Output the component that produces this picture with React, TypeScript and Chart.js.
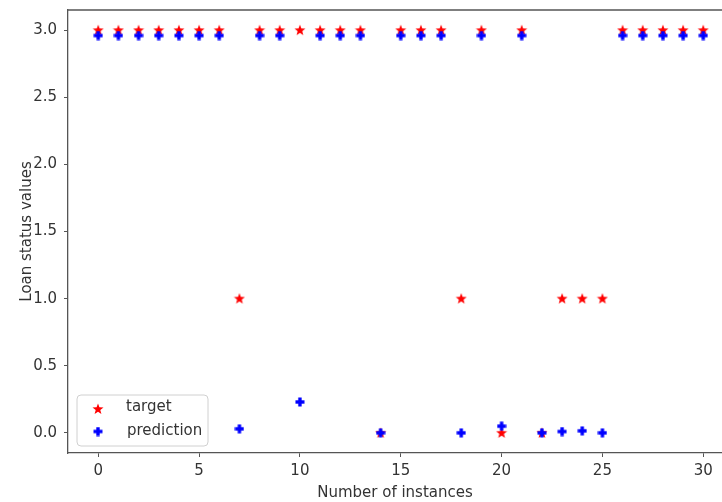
import React, { useEffect, useRef } from 'react';
import { Chart, registerables } from 'chart.js';

Chart.register(...registerables);

const instances = [0, 1, 2, 3, 4, 5, 6, 7, 8, 9, 10, 11, 12, 13, 14, 15, 16, 17, 18, 19, 20, 21, 22, 23, 24, 25, 26, 27, 28, 29, 30];
const targetValues = [3, 3, 3, 3, 3, 3, 3, 1, 3, 3, 3, 3, 3, 3, 0, 3, 3, 3, 1, 3, 0, 3, 0, 1, 1, 1, 3, 3, 3, 3, 3];
const predictionValues = [
  2.96, 2.96, 2.96, 2.96, 2.96, 2.96, 2.96, 0.03, 2.96, 2.96, 0.23, 2.96, 2.96, 2.96, 0.0, 2.96,
  2.96, 2.96, 0.0, 2.96, 0.05, 2.96, 0.0, 0.01, 0.015, 0.0, 2.96, 2.96, 2.96, 2.96, 2.96,
];
const xTicks = [0, 5, 10, 15, 20, 25, 30];
const yTicks = [0, 0.5, 1, 1.5, 2, 2.5, 3];
const seriesLabels = ['target', 'prediction'];
const xTitle = 'Number of instances';
const yTitle = 'Loan status values';

const FONT = 'DejaVu Sans';
const TEXT = '#333333';
const AXIS = '#555555';

function makeStar(color: string): HTMLCanvasElement {
  const c = document.createElement('canvas');
  c.width = 12;
  c.height = 12;
  const g = c.getContext('2d')!;
  const cx = 6, cy = 6.3, R = 5.8, r = 2.4;
  g.beginPath();
  for (let i = 0; i < 10; i++) {
    const rad = i % 2 === 0 ? R : r;
    const a = -Math.PI / 2 + (i * Math.PI) / 5;
    const x = cx + rad * Math.cos(a);
    const y = cy + rad * Math.sin(a);
    if (i === 0) g.moveTo(x, y);
    else g.lineTo(x, y);
  }
  g.closePath();
  g.fillStyle = color;
  g.fill();
  return c;
}

function makePlus(color: string): HTMLCanvasElement {
  const c = document.createElement('canvas');
  c.width = 10;
  c.height = 10;
  const g = c.getContext('2d')!;
  g.fillStyle = color;
  g.fillRect(3.3, 0.5, 3.4, 9);
  g.fillRect(0.5, 3.3, 9, 3.4);
  return c;
}

export default function App() {
  const ref = useRef<HTMLCanvasElement | null>(null);

  useEffect(() => {
    if (!ref.current) return;
    const star = makeStar('#ff0000');
    const plus = makePlus('#0000ff');

    const overlay = {
      id: 'overlay',
      afterDatasetsDraw(chart: any) {
        const { ctx, chartArea } = chart;
        ctx.save();
        ctx.strokeStyle = AXIS;
        ctx.lineWidth = 1.3;
        ctx.beginPath();
        ctx.moveTo(chartArea.left, chartArea.top);
        ctx.lineTo(chart.width, chartArea.top);
        ctx.stroke();
        const bx = 77, by = 395, bw = 131, bh = 51, br = 4;
        ctx.beginPath();
        ctx.moveTo(bx + br, by);
        ctx.lineTo(bx + bw - br, by);
        ctx.quadraticCurveTo(bx + bw, by, bx + bw, by + br);
        ctx.lineTo(bx + bw, by + bh - br);
        ctx.quadraticCurveTo(bx + bw, by + bh, bx + bw - br, by + bh);
        ctx.lineTo(bx + br, by + bh);
        ctx.quadraticCurveTo(bx, by + bh, bx, by + bh - br);
        ctx.lineTo(bx, by + br);
        ctx.quadraticCurveTo(bx, by, bx + br, by);
        ctx.closePath();
        ctx.fillStyle = 'rgba(255,255,255,0.8)';
        ctx.fill();
        ctx.strokeStyle = '#d0d0d0';
        ctx.lineWidth = 1;
        ctx.stroke();
        ctx.drawImage(star, 98 - 6, 409 - 6);
        ctx.drawImage(plus, 98 - 5, 431.5 - 5);
        ctx.fillStyle = TEXT;
        ctx.font = `15px "${FONT}"`;
        ctx.textBaseline = 'middle';
        ctx.textAlign = 'left';
        ctx.fillText(seriesLabels[0], 126, 407.5);
        ctx.fillText(seriesLabels[1], 127, 431);
        ctx.restore();
      },
    };

    const chart = new Chart(ref.current, {
      type: 'scatter',
      data: {
        datasets: [
          {
            label: seriesLabels[0],
            data: instances.map((x, i) => ({ x, y: targetValues[i] })),
            pointStyle: star as any,
            backgroundColor: '#ff0000',
            borderColor: '#ff0000',
            order: 2,
          },
          {
            label: seriesLabels[1],
            data: instances.map((x, i) => ({ x, y: predictionValues[i] })),
            pointStyle: plus as any,
            backgroundColor: '#0000ff',
            borderColor: '#0000ff',
            order: 1,
          },
        ],
      },
      options: {
        animation: false,
        responsive: false,
        maintainAspectRatio: false,
        layout: { autoPadding: false, padding: { top: 10, left: 0, right: 0, bottom: 0 } },
        plugins: {
          legend: { display: false },
          tooltip: { enabled: false },
        },
        scales: {
          x: {
            type: 'linear',
            min: -1.5,
            max: 30.93,
            afterBuildTicks: (s: any) => {
              s.ticks = xTicks.map((v) => ({ value: v }));
            },
            afterFit: (s: any) => {
              s.height = 49;
              s.paddingLeft = 0;
              s.paddingRight = 0;
            },
            grid: { drawOnChartArea: false, drawTicks: true, tickLength: 4, color: AXIS },
            border: { display: true, color: AXIS, width: 1.3 },
            ticks: {
              color: TEXT,
              padding: 5,
              font: { family: FONT, size: 15 },
              maxRotation: 0,
              callback: (v: any) => String(v),
            },
            title: {
              display: true,
              text: xTitle,
              color: TEXT,
              font: { family: FONT, size: 15 },
              padding: { top: 0, bottom: 0 },
            },
          },
          y: {
            type: 'linear',
            min: -0.15,
            max: 3.15,
            afterBuildTicks: (s: any) => {
              s.ticks = yTicks.map((v) => ({ value: v }));
            },
            afterFit: (s: any) => {
              s.width = 68;
              s.paddingTop = 0;
              s.paddingBottom = 0;
            },
            grid: { drawOnChartArea: false, drawTicks: true, tickLength: 4, color: AXIS },
            border: { display: true, color: AXIS, width: 1.3 },
            ticks: {
              color: TEXT,
              padding: 7,
              font: { family: FONT, size: 15 },
              callback: (v: any) => Number(v).toFixed(1),
            },
            title: {
              display: true,
              text: yTitle,
              color: TEXT,
              font: { family: FONT, size: 15 },
              padding: { top: 18, bottom: 0 },
            },
          },
        },
      },
      plugins: [overlay],
    });

    return () => chart.destroy();
  }, []);

  return (
    <div style={{ position: 'fixed', left: 0, top: 0, width: 722, height: 502, background: '#fff' }}>
      <canvas ref={ref} width={722} height={502} style={{ display: 'block', width: 722, height: 502 }} />
    </div>
  );
}
